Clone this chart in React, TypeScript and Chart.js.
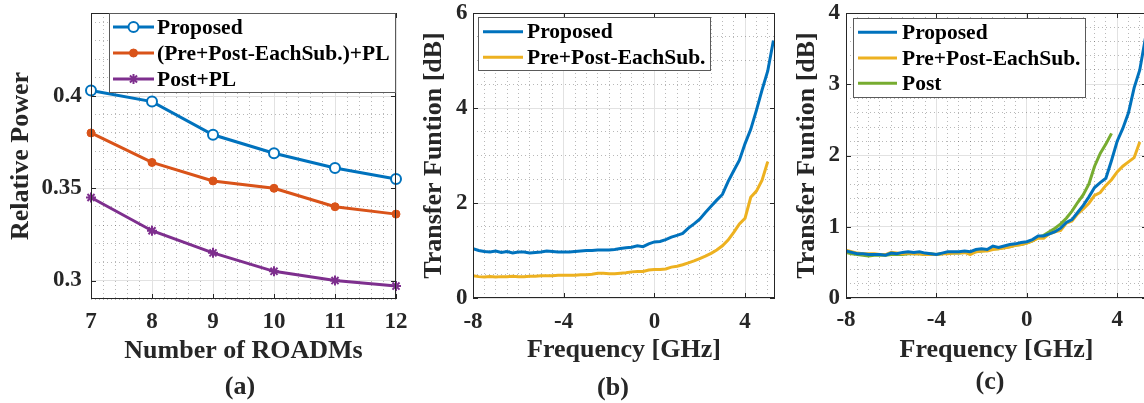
import React, { useEffect, useRef } from 'react';
import { Chart, registerables } from 'chart.js';
import { drawPoint } from 'chart.js/helpers';

Chart.register(...registerables);

// ---------------- data ----------------
const roadms = [7, 8, 9, 10, 11, 12];
const powerProposed = [0.403, 0.397, 0.379, 0.369, 0.361, 0.355];
const powerPrePostPL = [0.380, 0.364, 0.354, 0.350, 0.340, 0.336];
const powerPostPL = [0.345, 0.327, 0.315, 0.305, 0.300, 0.297];

const freqGHz = [
  -8, -7.75, -7.5, -7.25, -7, -6.75, -6.5, -6.25, -6, -5.75,
  -5.5, -5.25, -5, -4.75, -4.5, -4.25, -4, -3.75, -3.5, -3.25,
  -3, -2.75, -2.5, -2.25, -2, -1.75, -1.5, -1.25, -1, -0.75,
  -0.5, -0.25, 0, 0.25, 0.5, 0.75, 1, 1.25, 1.5, 1.75,
  2, 2.25, 2.5, 2.75, 3, 3.25, 3.5, 3.75, 4, 4.25,
  4.5, 4.75, 5, 5.25,
];

const tfProposedB = [
  1.04, 1.00, 0.98, 0.97, 0.99, 0.96, 0.98, 0.95, 0.97, 0.97,
  0.95, 0.96, 0.97, 0.99, 0.98, 0.97, 0.97, 0.97, 0.98, 0.99,
  1.00, 1.00, 1.01, 1.01, 1.01, 1.02, 1.04, 1.06, 1.07, 1.10,
  1.08, 1.14, 1.18, 1.19, 1.23, 1.28, 1.32, 1.36, 1.47, 1.56,
  1.66, 1.80, 1.93, 2.06, 2.18, 2.45, 2.68, 2.90, 3.25, 3.55,
  3.95, 4.38, 4.78, 5.42,
];
const tfPrePostB = [
  0.47, 0.45, 0.44, 0.45, 0.44, 0.45, 0.45, 0.46, 0.45, 0.45,
  0.46, 0.46, 0.47, 0.47, 0.47, 0.48, 0.48, 0.48, 0.48, 0.49,
  0.49, 0.50, 0.52, 0.52, 0.51, 0.51, 0.52, 0.53, 0.55, 0.56,
  0.56, 0.59, 0.60, 0.60, 0.61, 0.65, 0.67, 0.70, 0.74, 0.78,
  0.83, 0.88, 0.94, 1.01, 1.10, 1.22, 1.38, 1.56, 1.68, 2.12,
  2.25, 2.48, 2.87, null,
];

const tfProposedC = [
  0.66, 0.64, 0.62, 0.62, 0.61, 0.61, 0.61, 0.60, 0.63, 0.62,
  0.64, 0.65, 0.64, 0.65, 0.63, 0.62, 0.61, 0.63, 0.65, 0.65,
  0.65, 0.66, 0.65, 0.68, 0.69, 0.68, 0.73, 0.71, 0.73, 0.75,
  0.76, 0.78, 0.79, 0.82, 0.87, 0.87, 0.90, 0.93, 0.98, 1.06,
  1.10, 1.20, 1.30, 1.42, 1.55, 1.62, 1.68, 1.93, 2.20, 2.38,
  2.60, 2.95, 3.20, 3.65,
];
const tfPrePostC = [
  0.67, 0.65, 0.63, 0.62, 0.62, 0.62, 0.61, 0.61, 0.64, 0.63,
  0.62, 0.63, 0.62, 0.62, 0.61, 0.61, 0.61, 0.62, 0.62, 0.63,
  0.63, 0.64, 0.61, 0.65, 0.66, 0.66, 0.68, 0.69, 0.70, 0.72,
  0.74, 0.75, 0.77, 0.80, 0.84, 0.84, 0.90, 0.93, 0.95, 1.05,
  1.08, 1.18, 1.25, 1.33, 1.44, 1.48, 1.58, 1.66, 1.77, 1.85,
  1.91, 1.97, 2.19, null,
];
const tfPostC = [
  0.64, 0.62, 0.61, 0.60, 0.59, 0.60, 0.60, 0.60, 0.61, 0.61,
  0.61, 0.62, 0.62, 0.62, 0.61, 0.62, 0.61, 0.62, 0.63, 0.63,
  0.63, 0.64, 0.64, 0.65, 0.66, 0.67, 0.69, 0.69, 0.71, 0.72,
  0.74, 0.75, 0.77, 0.80, 0.85, 0.88, 0.93, 0.98, 1.04, 1.12,
  1.22, 1.34, 1.45, 1.60, 1.85, 2.03, 2.16, 2.31, null, null,
  null, null, null, null,
];

const xTicksA = [7, 8, 9, 10, 11, 12];
const yTicksA = [0.3, 0.35, 0.4];
const xTicksFreq = [-8, -4, 0, 4];
const yTicksB = [0, 2, 4, 6];
const yTicksC = [0, 1, 2, 3, 4];

const labelsA = ['Proposed', '(Pre+Post-EachSub.)+PL', 'Post+PL'];
const labelsB = ['Proposed', 'Pre+Post-EachSub.'];
const labelsC = ['Proposed', 'Pre+Post-EachSub.', 'Post'];

// ---------------- styles ----------------
const SERIF = '"Liberation Serif", "Times New Roman", serif';
const TXT = '#262626';
const BLUE = '#0072BD';
const ORANGE = '#D95319';
const YELLOW = '#EDB120';
const PURPLE = '#7E2F8E';
const GREEN = '#77AC30';
const MAJOR_GRID = '#e2e2e2';
const MINOR_GRID = 'rgba(0,0,0,0.28)';
const H = 403;

const pts = (xs: number[], ys: (number | null)[]) =>
  xs.map((x, i) => ({ x, y: ys[i] })).filter((p) => p.y !== null && p.y !== undefined);

const range = (min: number, max: number, step: number) => {
  const out: number[] = [];
  const start = Math.ceil(min / step - 1e-9) * step;
  for (let v = start; v <= max + 1e-9; v += step) out.push(Math.round(v * 1e6) / 1e6);
  return out;
};

const font = (size: number) => ({ family: SERIF, size, weight: 'bold' as const });

type LegendSpec = { box: number[]; rows: number[]; line: number[]; textX: number; size: number };

type PanelSpec = {
  canvasLeft: number;
  canvasWidth: number;
  plot: { left: number; right: number; top: number; bottom: number };
  x: { min: number; max: number; major: number[]; minorStep: number };
  y: { min: number; max: number; major: number[]; minorStep: number };
  xTitle: string;
  yTitle: string;
  xTitlePad: number;
  yTitlePad: number;
  xTickPad: number;
  yTickPad: number;
  clip: boolean;
  datasets: any[];
  legend: LegendSpec;
};

const lineDs = (label: string, data: any[], color: string, extra: any = {}) => ({
  label,
  data,
  borderColor: color,
  backgroundColor: color,
  borderWidth: 3,
  pointRadius: 0,
  pointStyle: false,
  tension: 0,
  ...extra,
});

const panels: PanelSpec[] = [
  {
    canvasLeft: 0,
    canvasWidth: 420,
    plot: { left: 91, right: 396, top: 13, bottom: 299 },
    x: { min: 7, max: 12, major: xTicksA, minorStep: 0.2 },
    y: { min: 0.29, max: 0.445, major: yTicksA, minorStep: 0.01 },
    xTitle: 'Number of ROADMs',
    yTitle: 'Relative Power',
    xTitlePad: 36.4,
    yTitlePad: 6.1,
    xTickPad: 9.7,
    yTickPad: 9.3,
    clip: false,
    datasets: [
      lineDs(labelsA[0], pts(roadms, powerProposed), BLUE, {
        pointStyle: 'circle', pointRadius: 5, pointBorderWidth: 2,
        pointBackgroundColor: '#ffffff', pointBorderColor: BLUE,
      }),
      lineDs(labelsA[1], pts(roadms, powerPrePostPL), ORANGE, {
        pointStyle: 'circle', pointRadius: 4, pointBorderWidth: 1,
        pointBackgroundColor: ORANGE, pointBorderColor: ORANGE,
      }),
      lineDs(labelsA[2], pts(roadms, powerPostPL), PURPLE, {
        pointStyle: 'star', pointRadius: 5, pointBorderWidth: 2,
        pointBackgroundColor: PURPLE, pointBorderColor: PURPLE,
      }),
    ],
    legend: { box: [109, 13, 396, 93], rows: [27, 53, 79], line: [113, 154], textX: 157, size: 21.5 },
  },
  {
    canvasLeft: 410,
    canvasWidth: 380,
    plot: { left: 473, right: 775, top: 13, bottom: 298 },
    x: { min: -8, max: 5.32, major: xTicksFreq, minorStep: 0.5 },
    y: { min: 0, max: 6, major: yTicksB, minorStep: 0.5 },
    xTitle: 'Frequency [GHz]',
    yTitle: 'Transfer Funtion [dB]',
    xTitlePad: 37.4,
    yTitlePad: 8.4,
    xTickPad: 10.2,
    yTickPad: 5.5,
    clip: true,
    datasets: [
      lineDs(labelsB[0], pts(freqGHz, tfProposedB), BLUE),
      lineDs(labelsB[1], pts(freqGHz, tfPrePostB), YELLOW),
    ],
    legend: { box: [478, 17, 711, 71], rows: [31.7, 57.3], line: [483, 523], textX: 527, size: 21.5 },
  },
  {
    canvasLeft: 770,
    canvasWidth: 380,
    plot: { left: 846, right: 1147, top: 13, bottom: 298 },
    x: { min: -8, max: 5.32, major: xTicksFreq, minorStep: 0.5 },
    y: { min: 0, max: 4, major: yTicksC, minorStep: 0.2 },
    xTitle: 'Frequency [GHz]',
    yTitle: 'Transfer Funtion [dB]',
    xTitlePad: 37.4,
    yTitlePad: 21.9,
    xTickPad: 8.2,
    yTickPad: 6,
    clip: true,
    datasets: [
      lineDs(labelsC[0], pts(freqGHz, tfProposedC), BLUE),
      lineDs(labelsC[1], pts(freqGHz, tfPrePostC), YELLOW),
      lineDs(labelsC[2], pts(freqGHz, tfPostC), GREEN),
    ],
    legend: { box: [853, 18, 1086, 98], rows: [32.3, 58, 83.3], line: [858, 897], textX: 902, size: 21.5 },
  },
];

const captions = [
  { text: '(a)', cx: 240, cy: 386 },
  { text: '(b)', cx: 613, cy: 387 },
  { text: '(c)', cx: 990, cy: 381 },
];

// ---------------- plugins ----------------
const framePlugin = (spec: PanelSpec) => ({
  id: 'frame',
  afterDatasetsDraw(chart: any) {
    const { ctx, chartArea: a, scales } = chart;
    ctx.save();
    ctx.strokeStyle = TXT;
    ctx.lineWidth = 1;
    ctx.setLineDash([]);
    ctx.strokeRect(Math.round(a.left) + 0.5, Math.round(a.top) + 0.5,
      Math.round(a.right - a.left) - 1, Math.round(a.bottom - a.top) - 1);
    const tl = 5;
    ctx.beginPath();
    spec.x.major.forEach((v) => {
      const px = Math.round(scales.x.getPixelForValue(v)) + 0.5;
      ctx.moveTo(px, a.bottom); ctx.lineTo(px, a.bottom - tl);
      ctx.moveTo(px, a.top); ctx.lineTo(px, a.top + tl);
    });
    spec.y.major.forEach((v) => {
      const py = Math.round(scales.y.getPixelForValue(v)) + 0.5;
      ctx.moveTo(a.left, py); ctx.lineTo(a.left + tl, py);
      ctx.moveTo(a.right, py); ctx.lineTo(a.right - tl, py);
    });
    ctx.stroke();
    ctx.restore();
  },
});

const legendPlugin = (spec: PanelSpec) => ({
  id: 'mlegend',
  afterDraw(chart: any) {
    const { ctx } = chart;
    const lg = spec.legend;
    const off = spec.canvasLeft;
    const x0 = lg.box[0] - off, y0 = lg.box[1], x1 = lg.box[2] - off, y1 = lg.box[3];
    ctx.save();
    ctx.setLineDash([]);
    ctx.fillStyle = '#ffffff';
    ctx.fillRect(x0, y0, x1 - x0, y1 - y0);
    ctx.strokeStyle = '#5a5a5a';
    ctx.lineWidth = 1;
    ctx.strokeRect(Math.round(x0) + 0.5, Math.round(y0) + 0.5, Math.round(x1 - x0) - 1, Math.round(y1 - y0) - 1);
    chart.data.datasets.forEach((ds: any, i: number) => {
      const y = lg.rows[i];
      const lx0 = lg.line[0] - off, lx1 = lg.line[1] - off;
      ctx.strokeStyle = ds.borderColor;
      ctx.lineWidth = ds.borderWidth;
      ctx.beginPath();
      ctx.moveTo(lx0, y);
      ctx.lineTo(lx1, y);
      ctx.stroke();
      if (ds.pointStyle && ds.pointRadius > 0) {
        ctx.fillStyle = ds.pointBackgroundColor;
        ctx.strokeStyle = ds.pointBorderColor;
        ctx.lineWidth = ds.pointBorderWidth;
        drawPoint(ctx, { pointStyle: ds.pointStyle, radius: ds.pointRadius, rotation: 0, borderWidth: ds.pointBorderWidth } as any, (lx0 + lx1) / 2, y);
      }
      ctx.fillStyle = '#000000';
      ctx.font = `bold ${lg.size}px ${SERIF}`;
      ctx.textAlign = 'left';
      ctx.textBaseline = 'middle';
      ctx.fillText(ds.label, lg.textX - off, y + 1);
    });
    ctx.restore();
  },
});

// ---------------- components ----------------
function Panel({ spec }: { spec: PanelSpec }) {
  const ref = useRef<HTMLCanvasElement | null>(null);

  useEffect(() => {
    if (!ref.current) return;
    const p = spec.plot;
    const off = spec.canvasLeft;
    const yAxisWidth = p.left - off;
    const xAxisHeight = H - p.bottom;
    const xMinor = range(spec.x.min, spec.x.max, spec.x.minorStep);
    const yMinor = range(spec.y.min, spec.y.max, spec.y.minorStep);
    const isMajor = (arr: number[], v: number) => arr.some((m) => Math.abs(m - v) < 1e-6);

    const chart = new Chart(ref.current, {
      type: 'line',
      data: {
        datasets: spec.datasets.map((d) => ({ ...d, xAxisID: 'x', yAxisID: 'y', clip: spec.clip ? undefined : false })),
      },
      plugins: [framePlugin(spec), legendPlugin(spec)],
      options: {
        responsive: false,
        animation: false,
        devicePixelRatio: 1,
        events: [],
        layout: { padding: { left: 0, top: p.top, right: off + spec.canvasWidth - p.right, bottom: 0 } },
        plugins: { legend: { display: false }, tooltip: { enabled: false }, title: { display: false } },
        scales: {
          x: {
            type: 'linear',
            position: 'bottom',
            min: spec.x.min,
            max: spec.x.max,
            afterBuildTicks: (s: any) => { s.ticks = spec.x.major.map((v) => ({ value: v })); },
            afterFit: (s: any) => { s.height = xAxisHeight; s.paddingLeft = 0; s.paddingRight = 0; },
            ticks: {
              callback: (v: any) => String(v),
              font: font(23),
              color: TXT,
              padding: spec.xTickPad,
              autoSkip: false,
              maxRotation: 0,
              minRotation: 0,
            },
            grid: { color: MAJOR_GRID, lineWidth: 1, drawTicks: false },
            border: { display: false },
            title: {
              display: true,
              text: spec.xTitle,
              font: font(26),
              color: TXT,
              padding: { top: 0, bottom: spec.xTitlePad },
            },
          },
          xm: {
            type: 'linear',
            position: 'bottom',
            min: spec.x.min,
            max: spec.x.max,
            afterBuildTicks: (s: any) => { s.ticks = xMinor.map((v) => ({ value: v })); },
            afterFit: (s: any) => { s.height = 0; s.paddingLeft = 0; s.paddingRight = 0; },
            ticks: { display: false },
            grid: {
              drawTicks: false,
              lineWidth: 1,
              color: (c: any) => (c.tick && isMajor(spec.x.major, c.tick.value) ? 'rgba(0,0,0,0)' : MINOR_GRID),
            },
            border: { display: false, dash: [1, 3] },
          },
          y: {
            type: 'linear',
            position: 'left',
            min: spec.y.min,
            max: spec.y.max,
            afterBuildTicks: (s: any) => { s.ticks = spec.y.major.map((v) => ({ value: v })); },
            afterFit: (s: any) => { s.width = yAxisWidth; s.paddingTop = 0; s.paddingBottom = 0; },
            ticks: {
              callback: (v: any) => String(v),
              font: font(23),
              color: TXT,
              padding: spec.yTickPad,
              autoSkip: false,
            },
            grid: { color: MAJOR_GRID, lineWidth: 1, drawTicks: false },
            border: { display: false },
            title: {
              display: true,
              text: spec.yTitle,
              font: font(26),
              color: TXT,
              padding: { top: spec.yTitlePad, bottom: 0 },
            },
          },
          ym: {
            type: 'linear',
            position: 'left',
            min: spec.y.min,
            max: spec.y.max,
            afterBuildTicks: (s: any) => { s.ticks = yMinor.map((v) => ({ value: v })); },
            afterFit: (s: any) => { s.width = 0; s.paddingTop = 0; s.paddingBottom = 0; },
            ticks: { display: false },
            grid: {
              drawTicks: false,
              lineWidth: 1,
              color: (c: any) => (c.tick && isMajor(spec.y.major, c.tick.value) ? 'rgba(0,0,0,0)' : MINOR_GRID),
            },
            border: { display: false, dash: [1, 3] },
          },
        },
      } as any,
    });
    return () => chart.destroy();
  }, [spec]);

  return (
    <canvas
      ref={ref}
      width={spec.canvasWidth}
      height={H}
      style={{ position: 'absolute', left: spec.canvasLeft, top: 0, width: spec.canvasWidth, height: H }}
    />
  );
}

export default function App() {
  return (
    <div
      style={{
        position: 'fixed',
        left: 0,
        top: 0,
        width: 1144,
        height: H,
        overflow: 'hidden',
        background: '#ffffff',
      }}
    >
      {panels.map((s, i) => (
        <Panel key={i} spec={s} />
      ))}
      {captions.map((c) => (
        <div
          key={c.text}
          style={{
            position: 'absolute',
            left: c.cx - 50,
            top: c.cy - 15,
            width: 100,
            height: 30,
            lineHeight: '30px',
            textAlign: 'center',
            fontFamily: SERIF,
            fontWeight: 'bold',
            fontSize: 26,
            color: TXT,
          }}
        >
          {c.text}
        </div>
      ))}
    </div>
  );
}
